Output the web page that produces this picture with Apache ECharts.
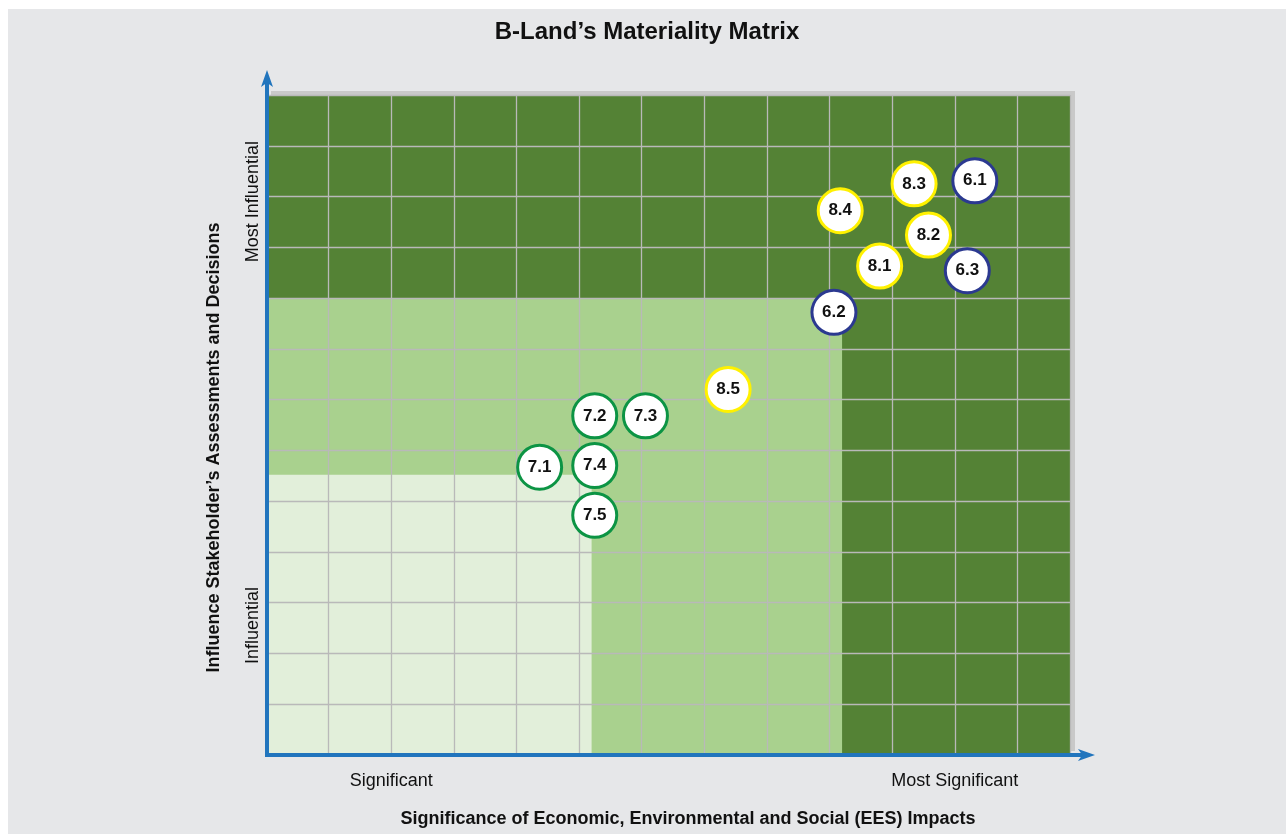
<!DOCTYPE html>
<html><head><meta charset="utf-8">
<script src="https://cdn.jsdelivr.net/npm/echarts@6/dist/echarts.min.js"></script>
<style>html,body{margin:0;padding:0;background:#ffffff;}#c{position:absolute;left:8px;top:9px;width:1278px;height:825px;}</style>
</head><body><div id="c"></div>
<script>
// ---- data ----
const issueLabels = ['6.1','6.2','6.3','7.1','7.2','7.3','7.4','7.5','8.1','8.2','8.3','8.4','8.5'];
const issueX = [11.32, 9.07, 11.20, 4.37, 5.25, 6.06, 5.25, 5.25, 9.80, 10.58, 10.35, 9.17, 7.38];
const issueY = [11.31, 8.72, 9.54, 5.67, 6.68, 6.68, 5.70, 4.72, 9.63, 10.24, 11.25, 10.72, 7.20];
const issueGroup = ['6','6','6','7','7','7','7','7','8','8','8','8','8'];
const groups = ['6','7','8'];

const zoneNames = ['High', 'Medium', 'Low'];
const zoneX0 = [0, 0, 0];
const zoneX1 = [12.84, 9.2, 5.2];
const zoneY0 = [0, 0, 0];
const zoneY1 = [13, 9, 5.52];

const xTickValues = [2, 11];
const xTickLabels = ['Significant', 'Most Significant'];
const yTickValues = [2.55, 10.9];
const yTickLabels = ['Influential', 'Most Influential'];

const xMax = 12.84, yMax = 13;

// ---- styles ----
const zoneColors = ['#548235', '#a9d18e', '#e2efda'];
const groupColors = {'6': '#2b3990', '7': '#0c9444', '8': '#fff100'};
const axisBlue = '#2175bd';
const font = 'Liberation Sans, Arial, Helvetica, sans-serif';
const gridLine = {show: true, lineStyle: {color: '#b9b9b9', width: 1.3}};

const chart = echarts.init(document.getElementById('c'), null, {renderer: 'canvas'});

const scatterSeries = groups.map(g => ({
  type: 'scatter', name: g, xAxisIndex: 0, yAxisIndex: 0, z: 5,
  symbol: 'circle', symbolSize: 44, clip: false,
  itemStyle: {color: '#ffffff', borderColor: groupColors[g], borderWidth: 3, opacity: 1},
  label: {show: true, position: 'inside', formatter: '{b}', color: '#111111',
          fontFamily: font, fontWeight: 'bold', fontSize: 17},
  data: issueLabels.map((n, i) => ({name: n, value: [issueX[i], issueY[i]], g: issueGroup[i]}))
                   .filter(d => d.g === g).map(d => ({name: d.name, value: d.value}))
}));

const arrowLine = {show: true, symbol: ['none', 'arrow'], symbolSize: [9, 17], symbolOffset: [0, 8],
  lineStyle: {color: axisBlue, width: 4, cap: 'square'}};

const option = {
  backgroundColor: '#e6e7e9',
  animation: false,
  textStyle: {fontFamily: font},
  title: {
    text: 'B-Land\u2019s Materiality Matrix', left: 'center', top: 11, padding: 0,
    textStyle: {fontFamily: font, fontWeight: 'bold', fontSize: 24, color: '#111111'}
  },
  grid: [
    {left: 258, right: 216, top: 86, bottom: 79, show: true, backgroundColor: '#548235',
     borderWidth: 0, shadowColor: '#c9c9c9', shadowBlur: 0, shadowOffsetX: 5, shadowOffsetY: -4},
    {left: 259, right: 199, top: 69, bottom: 79}
  ],
  xAxis: [
    {type: 'value', gridIndex: 0, min: 0, max: xMax, interval: 1, z: 3,
     axisLine: {show: false}, axisTick: {show: false}, splitLine: gridLine,
     axisLabel: {show: true, margin: 17, color: '#111111', fontFamily: font, fontSize: 18,
       showMinLabel: true, showMaxLabel: false,
       formatter: v => { const k = xTickValues.indexOf(v); return k >= 0 ? xTickLabels[k] : ''; }}},
    {type: 'value', gridIndex: 1, min: 0, max: 1, z: 6,
     axisLine: arrowLine,
     axisTick: {show: false}, axisLabel: {show: false}, splitLine: {show: false},
     name: 'Significance of Economic, Environmental and Social (EES) Impacts',
     nameLocation: 'middle', nameGap: 55,
     nameTextStyle: {fontFamily: font, fontWeight: 'bold', fontSize: 18, color: '#111111', padding: [0, 0, 0, 22]}}
  ],
  yAxis: [
    {type: 'value', gridIndex: 0, min: 0, max: yMax, interval: 1, z: 3,
     axisLine: {show: false}, axisTick: {show: false}, splitLine: gridLine, axisLabel: {show: false}},
    {type: 'value', gridIndex: 0, min: 0, max: yMax, interval: 0.05, position: 'left', offset: 0, z: 3,
     axisLine: {show: false}, axisTick: {show: false}, splitLine: {show: false},
     axisLabel: {show: true, margin: 4, rotate: 90, color: '#111111', fontFamily: font, fontSize: 18,
       formatter: v => { const k = yTickValues.findIndex(t => Math.abs(t - v) < 1e-6); return k >= 0 ? yTickLabels[k] : ''; }}},
    {type: 'value', gridIndex: 1, min: 0, max: 1, z: 6,
     axisLine: arrowLine,
     axisTick: {show: false}, axisLabel: {show: false}, splitLine: {show: false},
     name: 'Influence Stakeholder\u2019s Assessments and Decisions',
     nameLocation: 'middle', nameGap: 44, nameRotate: 90,
     nameTextStyle: {fontFamily: font, fontWeight: 'bold', fontSize: 18, color: '#111111', padding: [0, 62, 0, 0]}}
  ],
  series: [
    {type: 'custom', name: 'zones', xAxisIndex: 0, yAxisIndex: 0, z: 1, silent: true,
     encode: {x: [0, 2], y: [1, 3]},
     data: zoneNames.map((n, i) => [zoneX0[i], zoneY0[i], zoneX1[i], zoneY1[i]]),
     renderItem: (params, api) => {
       const p0 = api.coord([api.value(0), api.value(3)]);
       const p1 = api.coord([api.value(2), api.value(1)]);
       return {type: 'rect', shape: {x: p0[0], y: p0[1], width: p1[0] - p0[0], height: p1[1] - p0[1]},
               style: {fill: zoneColors[params.dataIndex]}};
     }},
    ...scatterSeries
  ]
};
chart.setOption(option);
</script></body></html>
